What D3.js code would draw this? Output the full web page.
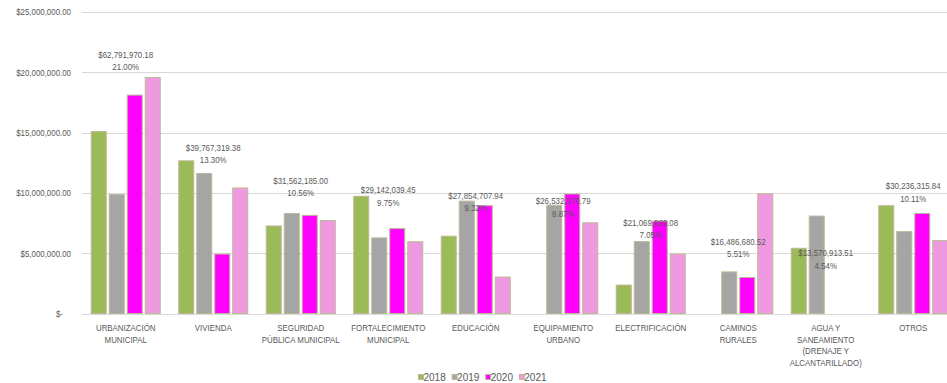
<!DOCTYPE html>
<html><head><meta charset="utf-8">
<script src="https://cdn.jsdelivr.net/npm/d3@7"></script>
<style>
html,body{margin:0;padding:0;background:#fff;overflow:hidden}
svg{display:block}
text{font-family:"Liberation Sans",Arial,sans-serif;fill:#595959}
</style></head>
<body>
<svg id="chart" width="947" height="383"></svg>
<script>
const categories = [
  ["URBANIZACIÓN","MUNICIPAL"],
  ["VIVIENDA"],
  ["SEGURIDAD","PÚBLICA MUNICIPAL"],
  ["FORTALECIMIENTO","MUNICIPAL"],
  ["EDUCACIÓN"],
  ["EQUIPAMIENTO","URBANO"],
  ["ELECTRIFICACIÓN"],
  ["CAMINOS","RURALES"],
  ["AGUA Y","SANEAMIENTO","(DRENAJE Y","ALCANTARILLADO)"],
  ["OTROS"]
];
const years = ["2018","2019","2020","2021"];
const v2018 = [15130000,12700000,7300000,9760000,6450000,0,2400000,0,5450000,8980000];
const v2019 = [9900000,11650000,8330000,6310000,9360000,9020000,6000000,3490000,8120000,6830000];
const v2020 = [18150000,4970000,8180000,7080000,8980000,9950000,7700000,3030000,0,8340000];
const v2021 = [19610000,10450000,7750000,5990000,3060000,7560000,4970000,9970000,0,6090000];
const totals = ["$62,791,970.18","$39,767,319.38","$31,562,185.00","$29,142,039.45","$27,854,707.94","$26,532,270.79","$21,069,820.08","$16,486,680.52","$13,570,913.51","$30,236,315.84"];
const percents = [21.00,13.30,10.56,9.75,9.32,8.87,7.05,5.51,4.54,10.11];
const yTicks = [0,5000000,10000000,15000000,20000000,25000000];
const colors = ["#9BBB59","#A5A5A5","#FF00FF","#EE99E0"];
const series = [v2018,v2019,v2020,v2021];

const svg = d3.select("#chart");
const FS = 9.5, SQ = 0.83;
function condense(sel){
  sel.each(function(){
    const w = this.getComputedTextLength();
    if (w>0){ this.setAttribute("textLength", w*SQ); this.setAttribute("lengthAdjust","spacingAndGlyphs"); }
  });
}

const catIdx = categories.map((d,i)=>i);
const x0 = d3.scaleBand().domain(catIdx).range([82,957]).paddingInner(0.2).paddingOuter(0.1);
const x1 = d3.scaleBand().domain(years).range([0,x0.bandwidth()]).paddingInner(0.111);
const y = d3.scaleLinear().domain([0,25000000]).range([313.5,12]);
const yPct = d3.scaleLinear().domain([0,25]).range([313.5,12]);

// gridlines
svg.append("g").selectAll("line").data(yTicks).join("line")
  .attr("x1",82).attr("x2",947)
  .attr("y1",d=>Math.round(y(d))+0.5).attr("y2",d=>Math.round(y(d))+0.5)
  .attr("stroke","#D9D9D9").attr("stroke-width",1);

// y tick labels
const fmt = d3.format(",.2f");
svg.append("g").selectAll("text").data(yTicks).join("text")
  .attr("x",d=>d===0?63:71).attr("y",d=>y(d)+3.4)
  .attr("text-anchor","end").attr("font-size",FS)
  .text(d=>d===0?"$-":"$"+fmt(d))
  .call(condense);

// bars
const groups = svg.append("g").selectAll("g").data(catIdx).join("g")
  .attr("transform",i=>`translate(${x0(i)},0)`);
groups.selectAll("rect").data(i=>years.map((yr,k)=>({yr,k,v:series[k][i]})).filter(d=>d.v>0)).join("rect")
  .attr("x",d=>x1(d.yr)+0.5).attr("width",x1.bandwidth()-1)
  .attr("y",d=>y(d.v)+0.5).attr("height",d=>y(0)-y(d.v)-0.5)
  .attr("fill",d=>colors[d.k]).attr("stroke","#BDB896").attr("stroke-width",1);

// data labels
const lab = svg.append("g").selectAll("g").data(catIdx).join("g");
lab.append("text").attr("x",i=>x0(i)+x0.bandwidth()/2).attr("y",i=>yPct(percents[i])-2.5)
  .attr("text-anchor","middle").attr("font-size",FS).text(i=>totals[i]).call(condense);
lab.append("text").attr("x",i=>x0(i)+x0.bandwidth()/2).attr("y",i=>yPct(percents[i])+10)
  .attr("text-anchor","middle").attr("font-size",FS).text(i=>percents[i].toFixed(2)+"%").call(condense);

// category labels
const cl = svg.append("g").selectAll("g").data(catIdx).join("g");
cl.selectAll("text").data(i=>categories[i].map((t,j)=>({t,j,i}))).join("text")
  .attr("x",d=>x0(d.i)+x0.bandwidth()/2).attr("y",d=>331+d.j*11.5)
  .attr("text-anchor","middle").attr("font-size",FS).text(d=>d.t).call(condense);

// legend
const lg = svg.append("g").selectAll("g").data(years).join("g")
  .attr("transform",(d,k)=>`translate(${418+k*33.6},374)`);
lg.append("rect").attr("x",0.5).attr("y",0.5).attr("width",5).attr("height",5)
  .attr("fill",(d,k)=>colors[k]).attr("stroke","#BDB896").attr("stroke-width",1);
lg.append("text").attr("x",5.5).attr("y",6.8).attr("font-size",10).text(d=>d);
</script>
</body></html>
